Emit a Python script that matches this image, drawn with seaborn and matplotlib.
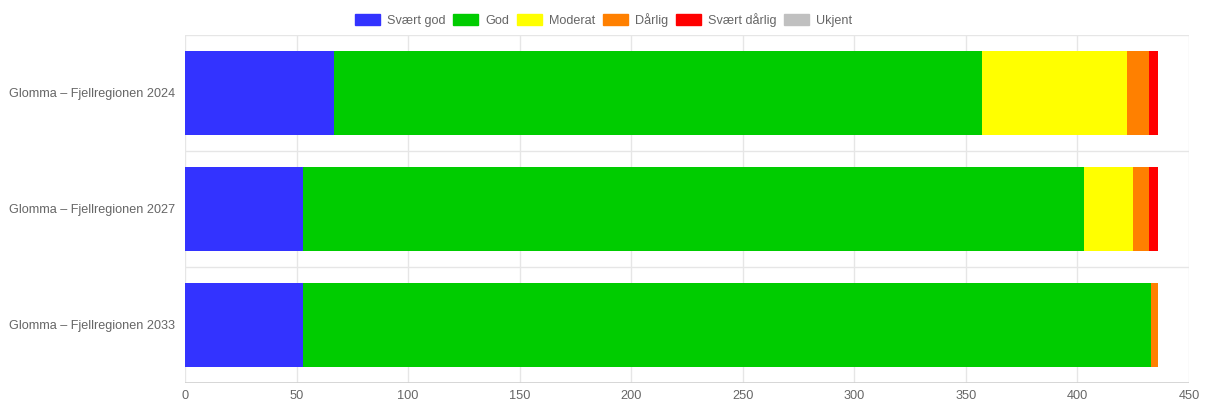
import numpy as np
import pandas as pd
import matplotlib
matplotlib.use("Agg")
import matplotlib.pyplot as plt
from matplotlib.patches import Patch
import seaborn as sns

categories = ["Glomma – Fjellregionen 2024", "Glomma – Fjellregionen 2027", "Glomma – Fjellregionen 2033"]
series_names = ["Svært god", "God", "Moderat", "Dårlig", "Svært dårlig", "Ukjent"]
svaert_god = [67, 53, 53]
god = [290, 350, 380]
moderat = [65, 22, 0]
darlig = [10, 7, 3]
svaert_darlig = [4, 4, 0]
ukjent = [0, 0, 0]
colors = ["#3333ff", "#00cc00", "#ffff00", "#ff8000", "#ff0000", "#c0c0c0"]
x_ticks = [0, 50, 100, 150, 200, 250, 300, 350, 400, 450]

sns.set_theme(style="white")
plt.rcParams["font.family"] = ["Liberation Sans", "DejaVu Sans"]

series = [svaert_god, god, moderat, darlig, svaert_darlig, ukjent]
cum = np.cumsum(np.array(series, dtype=float), axis=0)

fig = plt.figure(figsize=(12.07, 4.03), dpi=100)
ax = fig.add_axes([185 / 1207, 1 - 383 / 403, (1189 - 185) / 1207, (383 - 35) / 403])

# draw cumulative totals from last to first so earlier segments sit in front
for i in range(len(series) - 1, -1, -1):
    df = pd.DataFrame({"cat": categories, "val": cum[i]})
    sns.barplot(data=df, y="cat", x="val", order=categories, color=colors[i],
                width=0.72, ax=ax, saturation=1, linewidth=0, zorder=3)

ax.set_xlim(0, 450)
ax.set_ylim(len(categories) - 0.5, -0.5)
ax.set_xticks(x_ticks)
ax.set_xticklabels([str(t) for t in x_ticks])
ax.set_xlabel("")
ax.set_ylabel("")

# grid: vertical at ticks, horizontal between categories
for t in x_ticks:
    ax.axvline(t, color="#e6e6e6", linewidth=1, zorder=0)
for b in np.arange(-0.5, len(categories), 1.0):
    ax.axhline(b, color="#e6e6e6", linewidth=1, zorder=0)

for s in ax.spines.values():
    s.set_visible(False)
ax.axhline(len(categories) - 0.5, color="#d0d0d0", linewidth=1.2, zorder=1)

ax.tick_params(axis="x", colors="#666666", labelsize=9.2, length=4, width=1, pad=1)
ax.tick_params(axis="x", color="#e6e6e6")
ax.tick_params(axis="y", colors="#666666", labelsize=9.1, length=0, pad=7)
for lab in ax.get_xticklabels() + ax.get_yticklabels():
    lab.set_color("#666666")

handles = [Patch(facecolor=c, edgecolor=c, label=n) for c, n in zip(colors, series_names)]
fig.legend(handles=handles, loc="center", bbox_to_anchor=(0.5, 1 - 20 / 403), ncol=6,
           frameon=False, fontsize=9.1, handlelength=2.0, handleheight=0.95,
           handletextpad=0.55, columnspacing=0.6, labelcolor="#666666")

fig.savefig("out.png", dpi=100)
